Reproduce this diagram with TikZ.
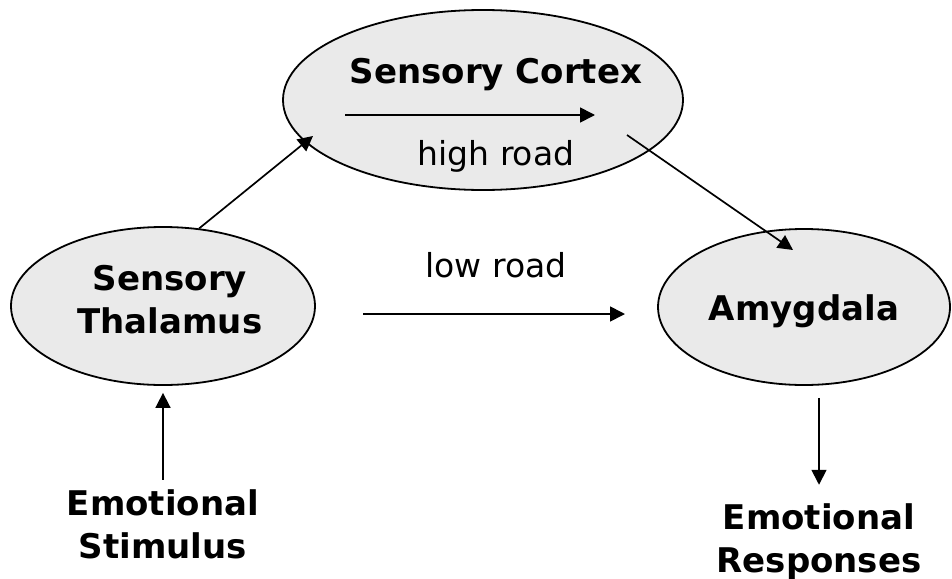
\documentclass[tikz,border=0pt]{standalone}
\usepackage{fontspec}
\setmainfont{DejaVu Sans}
\usetikzlibrary{shapes.geometric,arrows.meta}
\definecolor{areagray}{RGB}{234,234,234}
\tikzset{
  area/.style={ellipse,draw,fill=areagray,line width=0.9pt,inner sep=0pt},
  region/.style={font=\bfseries\fontsize{17}{21.5}\selectfont,align=center,inner sep=0pt,anchor=base},
  road/.style={font=\fontsize{16.5}{20}\selectfont,inner sep=0pt,anchor=base},
  link/.style={-{Triangle[length=7.5pt,width=7.5pt]},line width=0.85pt}
}
\begin{document}
\begin{tikzpicture}[x=0.5pt,y=-0.5pt]
\useasboundingbox (0,0) rectangle (952,578);
\node[area,minimum width=200pt,minimum height=90pt] (cortex) at (483,100) {};
\node[area,minimum width=152pt,minimum height=79pt] (thalamus) at (163,306) {};
\node[area,minimum width=146pt,minimum height=78pt] (amygdala) at (804,307) {};
\node[region] (cortexlbl) at (496,83) {Sensory Cortex};
\node[region] (thallbl) at (170,333) {Sensory\\Thalamus};
\node[region] (amylbl) at (804,320) {Amygdala};
\node[region] (stimulus) at (163,558) {Emotional\\Stimulus};
\node[region] (responses) at (819,572) {Emotional\\Responses};
\node[road] (highroad) at (496,165) {high road};
\node[road] (lowroad) at (496,277) {low road};
\coordinate (hr-a) at (345,115);
\coordinate (hr-b) at (595,115);
\coordinate (lr-a) at (363,314);
\coordinate (lr-b) at (625,314);
\coordinate (up-b) at (313,136);
\coordinate (dn-a) at (627,135);
\coordinate (dn-b) at (793,250);
\draw[link] (hr-a) -- (hr-b);
\draw[link] (lr-a) -- (lr-b);
\draw[link] (thalamus.65) -- (up-b);
\draw[link] (dn-a) -- (dn-b);
\draw[link,shorten <=4.5pt,shorten >=3.5pt] (stimulus.north) -- (thalamus.south);
\draw[link,shorten <=6pt,shorten >=9pt] (amygdala.south -| responses.north) -- (responses.north);
\end{tikzpicture}
\end{document}
